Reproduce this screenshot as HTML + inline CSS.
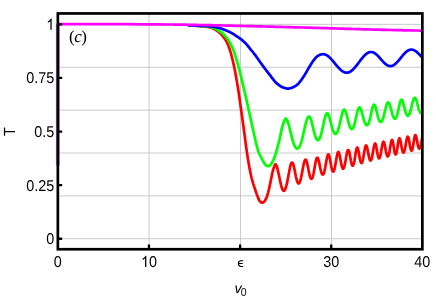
<!DOCTYPE html>
<html><head><meta charset="utf-8"><title>chart</title>
<style>html,body{margin:0;padding:0;background:#fff;}body{width:436px;height:300px;overflow:hidden;font-family:"Liberation Sans",sans-serif;}svg{display:block;will-change:transform;}text{text-rendering:geometricPrecision;}</style></head>
<body>
<svg width="436" height="300" viewBox="0 0 436 300">
<rect width="436" height="300" fill="#fff"/>
<path d="M149.10 13.45V249.25M240.50 13.45V249.25M331.50 13.45V249.25M57.85 238.73H422.35M57.85 195.86H422.35M57.85 152.99H422.35M57.85 110.11H422.35M57.85 67.24H422.35M57.85 24.37H422.35" stroke="#c4c4c4" stroke-width="0.9" fill="none"/>
<path d="M57.85 24V165.5" stroke="#b07cd0" stroke-width="3.9" fill="none"/>
<clipPath id="c"><rect x="57.85" y="13.45" width="364.50" height="235.80"/></clipPath>
<g clip-path="url(#c)" fill="none" stroke-width="2.70" stroke-linejoin="round">
<path d="M188.0 25.3L188.4 25.3L188.8 25.3L189.2 25.4L189.6 25.4L190.0 25.4L190.4 25.4L190.8 25.4L191.2 25.5L191.6 25.5L192.0 25.5L192.4 25.5L192.8 25.5L193.2 25.6L193.6 25.6L194.0 25.6L194.4 25.7L194.8 25.7L195.2 25.7L195.6 25.7L196.0 25.8L196.4 25.8L196.8 25.8L197.2 25.9L197.6 25.9L198.0 25.9L198.4 26.0L198.8 26.0L199.2 26.0L199.6 26.1L200.0 26.1L200.4 26.1L200.8 26.2L201.2 26.2L201.6 26.2L202.0 26.3L202.4 26.3L202.8 26.4L203.2 26.4L203.6 26.4L204.0 26.5L204.4 26.5L204.8 26.6L205.2 26.6L205.6 26.7L206.0 26.7L206.4 26.8L206.8 26.8L207.2 26.9L207.6 27.0L208.0 27.0L208.4 27.1L208.8 27.2L209.2 27.2L209.6 27.3L210.0 27.4L210.4 27.5L210.8 27.6L211.2 27.7L211.6 27.9L212.0 28.0L212.4 28.2L212.8 28.3L213.2 28.5L213.6 28.7L214.0 28.9L214.4 29.2L214.8 29.4L215.2 29.6L215.6 29.9L216.0 30.1L216.4 30.4L216.8 30.7L217.2 30.9L217.6 31.2L218.0 31.5L218.4 31.8L218.8 32.1L219.2 32.4L219.6 32.8L220.0 33.1L220.4 33.5L220.8 33.8L221.2 34.2L221.6 34.7L222.0 35.1L222.4 35.6L222.8 36.1L223.2 36.6L223.6 37.1L224.0 37.7L224.4 38.2L224.8 38.8L225.2 39.4L225.6 40.1L226.0 40.7L226.4 41.4L226.8 42.1L227.2 42.9L227.6 43.7L228.0 44.6L228.4 45.7L228.8 46.7L229.2 47.9L229.6 49.1L230.0 50.3L230.4 51.6L230.8 53.0L231.2 54.4L231.6 55.9L232.0 57.5L232.4 59.1L232.8 60.8L233.2 62.6L233.6 64.3L234.0 66.2L234.4 68.0L234.8 70.0L235.2 72.1L235.6 74.2L236.0 76.4L236.4 78.7L236.8 81.0L237.2 83.4L237.6 85.8L238.0 88.3L238.4 90.8L238.8 93.4L239.2 96.2L239.6 99.0L240.0 101.9L240.4 104.9L240.8 107.8L241.2 110.6L241.6 113.4L242.0 116.2L242.4 119.1L242.8 121.9L243.2 124.7L243.6 127.6L244.0 130.5L244.4 133.5L244.8 136.6L245.2 139.7L245.6 142.8L246.0 145.9L246.4 148.8L246.8 151.6L247.2 154.3L247.6 156.9L248.0 159.4L248.4 161.8L248.8 164.1L249.2 166.4L249.6 168.5L250.0 170.6L250.4 172.6L250.8 174.5L251.2 176.3L251.6 178.0L252.0 179.5L252.4 180.9L252.8 182.3L253.2 183.6L253.6 184.8L254.0 186.1L254.4 187.3L254.8 188.5L255.2 189.8L255.6 190.9L256.0 192.1L256.4 193.3L256.8 194.4L257.2 195.4L257.6 196.5L258.0 197.5L258.4 198.6L258.8 199.5L259.2 200.2L259.6 200.8L260.0 201.4L260.4 201.8L260.8 202.1L261.2 202.4L261.6 202.6L262.0 202.7L262.4 202.7L262.8 202.6L263.2 202.4L263.6 202.1L264.0 201.8L264.4 201.4L264.8 200.8L265.2 200.2L265.6 199.5L266.0 198.7L266.4 197.8L266.8 196.8L267.2 195.7L267.6 194.5L268.0 193.1L268.4 191.5L268.8 189.9L269.2 188.2L269.6 186.4L270.0 184.5L270.4 182.5L270.8 180.5L271.2 178.5L271.6 176.5L272.0 174.6L272.4 172.7L272.8 171.1L273.2 169.7L273.6 168.4L274.0 167.2L274.4 166.1L274.8 165.1L275.2 164.4L275.6 164.3L276.0 164.7L276.4 165.5L276.8 166.5L277.2 167.8L277.6 169.2L278.0 170.9L278.4 172.7L278.8 174.6L279.2 176.6L279.6 178.5L280.0 180.5L280.4 182.3L280.8 184.0L281.2 185.6L281.6 187.0L282.0 188.2L282.4 189.2L282.8 190.0L283.2 190.5L283.6 190.7L284.0 190.8L284.4 190.5L284.8 190.0L285.2 189.2L285.6 188.2L286.0 187.0L286.4 185.6L286.8 183.9L287.2 182.1L287.6 180.1L288.0 178.0L288.4 175.8L288.8 173.6L289.2 171.4L289.6 169.4L290.0 167.5L290.4 165.8L290.8 164.4L291.2 163.4L291.6 162.8L292.0 162.5L292.4 162.7L292.8 163.3L293.2 164.3L293.6 165.7L294.0 167.3L294.4 169.1L294.8 171.1L295.2 173.1L295.6 175.1L296.0 177.0L296.4 178.7L296.8 180.2L297.2 181.5L297.6 182.4L298.0 183.1L298.4 183.4L298.8 183.4L299.2 183.1L299.6 182.4L300.0 181.5L300.4 180.3L300.8 178.8L301.2 177.0L301.6 175.1L302.0 173.0L302.4 170.9L302.8 168.7L303.2 166.6L303.6 164.6L304.0 162.9L304.4 161.5L304.8 160.4L305.2 159.8L305.6 159.6L306.0 159.9L306.4 160.7L306.8 161.9L307.2 163.5L307.6 165.3L308.0 167.3L308.4 169.4L308.8 171.4L309.2 173.3L309.6 175.1L310.0 176.6L310.4 177.7L310.8 178.5L311.2 178.9L311.6 178.9L312.0 178.5L312.4 177.7L312.8 176.6L313.2 175.0L313.6 173.2L314.0 171.1L314.4 168.8L314.8 166.5L315.2 164.2L315.6 162.1L316.0 160.3L316.4 158.9L316.8 158.0L317.2 157.6L317.6 157.8L318.0 158.4L318.4 159.6L318.8 161.1L319.2 162.8L319.6 164.8L320.0 166.7L320.4 168.6L320.8 170.3L321.2 171.8L321.6 173.1L322.0 173.9L322.4 174.4L322.8 174.6L323.2 174.3L323.6 173.7L324.0 172.6L324.4 171.3L324.8 169.5L325.2 167.6L325.6 165.4L326.0 163.1L326.4 160.8L326.8 158.7L327.2 156.8L327.6 155.4L328.0 154.6L328.4 154.3L328.8 154.7L329.2 155.7L329.6 157.3L330.0 159.2L330.4 161.5L330.8 163.8L331.2 166.0L331.6 167.9L332.0 169.5L332.4 170.7L332.8 171.4L333.2 171.6L333.6 171.3L334.0 170.5L334.4 169.3L334.8 167.6L335.2 165.6L335.6 163.4L336.0 161.0L336.4 158.6L336.8 156.4L337.2 154.5L337.6 153.1L338.0 152.2L338.4 152.0L338.8 152.4L339.2 153.5L339.6 155.1L340.0 157.0L340.4 159.2L340.8 161.4L341.2 163.5L341.6 165.4L342.0 166.9L342.4 167.9L342.8 168.6L343.2 168.7L343.6 168.3L344.0 167.5L344.4 166.3L344.8 164.6L345.2 162.6L345.6 160.4L346.0 158.1L346.4 155.8L346.8 153.7L347.2 151.9L347.6 150.6L348.0 150.0L348.4 150.0L348.8 150.7L349.2 151.9L349.6 153.7L350.0 155.8L350.4 158.0L350.8 160.2L351.2 162.1L351.6 163.7L352.0 164.9L352.4 165.6L352.8 165.7L353.2 165.3L353.6 164.3L354.0 162.9L354.4 160.9L354.8 158.6L355.2 156.1L355.6 153.5L356.0 151.2L356.4 149.3L356.8 148.0L357.2 147.5L357.6 147.8L358.0 148.8L358.4 150.5L358.8 152.6L359.2 154.9L359.6 157.2L360.0 159.3L360.4 161.0L360.8 162.2L361.2 162.9L361.6 163.1L362.0 162.7L362.4 161.7L362.8 160.2L363.2 158.3L363.6 156.1L364.0 153.6L364.4 151.2L364.8 149.0L365.2 147.2L365.6 146.0L366.0 145.4L366.4 145.6L366.8 146.5L367.2 147.9L367.6 149.8L368.0 151.9L368.4 154.1L368.8 156.1L369.2 157.9L369.6 159.3L370.0 160.2L370.4 160.6L370.8 160.5L371.2 159.9L371.6 158.8L372.0 157.3L372.4 155.4L372.8 153.1L373.2 150.8L373.6 148.5L374.0 146.4L374.4 144.7L374.8 143.7L375.2 143.5L375.6 144.0L376.0 145.3L376.4 147.3L376.8 149.6L377.2 152.0L377.6 154.2L378.0 156.1L378.4 157.5L378.8 158.3L379.2 158.4L379.6 158.0L380.0 156.9L380.4 155.4L380.8 153.4L381.2 151.1L381.6 148.7L382.0 146.4L382.4 144.3L382.8 142.8L383.2 141.9L383.6 141.7L384.0 142.3L384.4 143.5L384.8 145.2L385.2 147.3L385.6 149.4L386.0 151.5L386.4 153.3L386.8 154.8L387.2 155.8L387.6 156.3L388.0 156.3L388.4 155.7L388.8 154.6L389.2 152.9L389.6 150.9L390.0 148.5L390.4 146.0L390.8 143.7L391.2 141.7L391.6 140.4L392.0 139.9L392.4 140.3L392.8 141.6L393.2 143.6L393.6 146.1L394.0 148.6L394.4 151.0L394.8 152.8L395.2 154.1L395.6 154.5L396.0 154.2L396.4 153.1L396.8 151.3L397.2 149.0L397.6 146.3L398.0 143.6L398.4 141.2L398.8 139.4L399.2 138.4L399.6 138.3L400.0 139.1L400.4 140.6L400.8 142.6L401.2 144.9L401.6 147.1L402.0 149.1L402.4 150.8L402.8 151.9L403.2 152.6L403.6 152.6L404.0 152.2L404.4 151.1L404.8 149.6L405.2 147.7L405.6 145.5L406.0 143.1L406.4 140.8L406.8 138.8L407.2 137.3L407.6 136.6L408.0 136.7L408.4 137.6L408.8 139.2L409.2 141.3L409.6 143.7L410.0 146.0L410.4 148.0L410.8 149.5L411.2 150.4L411.6 150.7L412.0 150.2L412.4 149.1L412.8 147.3L413.2 145.1L413.6 142.6L414.0 140.0L414.4 137.7L414.8 136.0L415.2 135.1L415.6 135.1L416.0 136.0L416.4 137.6L416.8 139.6L417.2 141.8L417.6 143.9L418.0 145.8L418.4 147.3L418.8 148.2L419.2 148.6L419.6 148.5L420.0 147.9L420.4 146.7L420.8 145.1L421.2 143.1L421.6 140.9L422.0 138.7L422.4 136.6" stroke="#ff0000"/>
<path d="M188.0 25.3L188.4 25.3L188.8 25.3L189.2 25.3L189.6 25.4L190.0 25.4L190.4 25.4L190.8 25.4L191.2 25.4L191.6 25.5L192.0 25.5L192.4 25.5L192.8 25.5L193.2 25.6L193.6 25.6L194.0 25.6L194.4 25.6L194.8 25.6L195.2 25.7L195.6 25.7L196.0 25.7L196.4 25.8L196.8 25.8L197.2 25.8L197.6 25.8L198.0 25.9L198.4 25.9L198.8 25.9L199.2 25.9L199.6 26.0L200.0 26.0L200.4 26.0L200.8 26.1L201.2 26.1L201.6 26.1L202.0 26.1L202.4 26.2L202.8 26.2L203.2 26.2L203.6 26.3L204.0 26.3L204.4 26.3L204.8 26.4L205.2 26.4L205.6 26.4L206.0 26.5L206.4 26.5L206.8 26.5L207.2 26.6L207.6 26.6L208.0 26.7L208.4 26.7L208.8 26.8L209.2 26.8L209.6 26.9L210.0 27.0L210.4 27.0L210.8 27.1L211.2 27.2L211.6 27.3L212.0 27.4L212.4 27.5L212.8 27.7L213.2 27.8L213.6 28.0L214.0 28.1L214.4 28.3L214.8 28.5L215.2 28.7L215.6 28.9L216.0 29.1L216.4 29.3L216.8 29.5L217.2 29.7L217.6 30.0L218.0 30.2L218.4 30.5L218.8 30.7L219.2 31.0L219.6 31.2L220.0 31.5L220.4 31.8L220.8 32.0L221.2 32.3L221.6 32.6L222.0 32.9L222.4 33.2L222.8 33.6L223.2 33.9L223.6 34.3L224.0 34.7L224.4 35.1L224.8 35.6L225.2 36.0L225.6 36.5L226.0 37.0L226.4 37.5L226.8 38.1L227.2 38.6L227.6 39.2L228.0 39.7L228.4 40.3L228.8 40.9L229.2 41.6L229.6 42.2L230.0 42.8L230.4 43.5L230.8 44.3L231.2 45.1L231.6 45.9L232.0 46.8L232.4 47.8L232.8 48.7L233.2 49.7L233.6 50.8L234.0 51.9L234.4 53.0L234.8 54.2L235.2 55.4L235.6 56.7L236.0 58.0L236.4 59.3L236.8 60.7L237.2 62.1L237.6 63.5L238.0 64.9L238.4 66.4L238.8 67.8L239.2 69.3L239.6 70.8L240.0 72.4L240.4 74.0L240.8 75.6L241.2 77.3L241.6 79.0L242.0 80.7L242.4 82.4L242.8 84.1L243.2 85.8L243.6 87.5L244.0 89.2L244.4 90.9L244.8 92.6L245.2 94.4L245.6 96.1L246.0 97.9L246.4 99.6L246.8 101.4L247.2 103.2L247.6 105.0L248.0 106.8L248.4 108.6L248.8 110.4L249.2 112.2L249.6 114.0L250.0 115.9L250.4 117.7L250.8 119.6L251.2 121.5L251.6 123.3L252.0 125.2L252.4 127.0L252.8 128.8L253.2 130.5L253.6 132.2L254.0 134.0L254.4 135.8L254.8 137.5L255.2 139.3L255.6 141.1L256.0 142.8L256.4 144.4L256.8 146.0L257.2 147.5L257.6 148.9L258.0 150.3L258.4 151.5L258.8 152.5L259.2 153.5L259.6 154.4L260.0 155.2L260.4 156.0L260.8 156.8L261.2 157.5L261.6 158.2L262.0 159.0L262.4 159.8L262.8 160.6L263.2 161.3L263.6 162.0L264.0 162.7L264.4 163.3L264.8 163.9L265.2 164.5L265.6 165.0L266.0 165.3L266.4 165.6L266.8 165.8L267.2 166.0L267.6 166.1L268.0 166.2L268.4 166.1L268.8 166.0L269.2 165.8L269.6 165.6L270.0 165.3L270.4 165.0L270.8 164.5L271.2 163.9L271.6 163.3L272.0 162.7L272.4 162.0L272.8 161.2L273.2 160.4L273.6 159.5L274.0 158.5L274.4 157.5L274.8 156.3L275.2 155.2L275.6 153.9L276.0 152.6L276.4 151.3L276.8 150.0L277.2 148.6L277.6 147.1L278.0 145.6L278.4 144.0L278.8 142.4L279.2 140.8L279.6 139.2L280.0 137.3L280.4 135.4L280.8 133.4L281.2 131.4L281.6 129.6L282.0 127.8L282.4 126.3L282.8 125.0L283.2 123.8L283.6 122.7L284.0 121.6L284.4 120.6L284.8 119.7L285.2 118.9L285.6 118.5L286.0 118.7L286.4 119.1L286.8 119.7L287.2 120.5L287.6 121.4L288.0 122.5L288.4 123.8L288.8 125.2L289.2 126.6L289.6 128.2L290.0 129.8L290.4 131.4L290.8 133.1L291.2 134.7L291.6 136.3L292.0 137.9L292.4 139.4L292.8 140.8L293.2 142.1L293.6 143.3L294.0 144.4L294.4 145.4L294.8 146.2L295.2 146.9L295.6 147.5L296.0 148.0L296.4 148.3L296.8 148.5L297.2 148.6L297.6 148.5L298.0 148.3L298.4 148.0L298.8 147.5L299.2 146.9L299.6 146.2L300.0 145.4L300.4 144.4L300.8 143.3L301.2 142.1L301.6 140.8L302.0 139.3L302.4 137.8L302.8 136.2L303.2 134.5L303.6 132.8L304.0 131.0L304.4 129.2L304.8 127.5L305.2 125.7L305.6 124.1L306.0 122.5L306.4 121.1L306.8 119.8L307.2 118.7L307.6 117.8L308.0 117.1L308.4 116.7L308.8 116.5L309.2 116.6L309.6 116.9L310.0 117.5L310.4 118.3L310.8 119.3L311.2 120.5L311.6 121.9L312.0 123.5L312.4 125.1L312.8 126.7L313.2 128.4L313.6 130.1L314.0 131.7L314.4 133.2L314.8 134.6L315.2 135.9L315.6 137.0L316.0 138.0L316.4 138.8L316.8 139.4L317.2 139.8L317.6 140.1L318.0 140.1L318.4 140.0L318.8 139.7L319.2 139.2L319.6 138.5L320.0 137.6L320.4 136.6L320.8 135.4L321.2 134.0L321.6 132.5L322.0 130.9L322.4 129.1L322.8 127.3L323.2 125.4L323.6 123.6L324.0 121.7L324.4 120.0L324.8 118.3L325.2 116.9L325.6 115.6L326.0 114.6L326.4 113.8L326.8 113.4L327.2 113.2L327.6 113.3L328.0 113.8L328.4 114.5L328.8 115.4L329.2 116.6L329.6 117.9L330.0 119.4L330.4 121.0L330.8 122.6L331.2 124.2L331.6 125.8L332.0 127.3L332.4 128.7L332.8 129.9L333.2 131.0L333.6 132.0L334.0 132.7L334.4 133.3L334.8 133.7L335.2 133.9L335.6 134.0L336.0 133.8L336.4 133.5L336.8 132.9L337.2 132.2L337.6 131.3L338.0 130.3L338.4 129.0L338.8 127.6L339.2 126.1L339.6 124.4L340.0 122.7L340.4 120.9L340.8 119.1L341.2 117.3L341.6 115.7L342.0 114.1L342.4 112.7L342.8 111.5L343.2 110.6L343.6 110.0L344.0 109.7L344.4 109.7L344.8 110.0L345.2 110.7L345.6 111.6L346.0 112.7L346.4 114.0L346.8 115.5L347.2 117.1L347.6 118.8L348.0 120.4L348.4 122.0L348.8 123.5L349.2 124.8L349.6 126.0L350.0 127.0L350.4 127.9L350.8 128.5L351.2 128.9L351.6 129.1L352.0 129.1L352.4 128.9L352.8 128.4L353.2 127.7L353.6 126.9L354.0 125.8L354.4 124.5L354.8 123.0L355.2 121.3L355.6 119.6L356.0 117.8L356.4 115.9L356.8 114.1L357.2 112.5L357.6 110.9L358.0 109.6L358.4 108.6L358.8 107.9L359.2 107.5L359.6 107.4L360.0 107.7L360.4 108.3L360.8 109.1L361.2 110.2L361.6 111.5L362.0 112.9L362.4 114.4L362.8 115.9L363.2 117.4L363.6 118.9L364.0 120.2L364.4 121.5L364.8 122.5L365.2 123.5L365.6 124.2L366.0 124.7L366.4 125.1L366.8 125.2L367.2 125.2L367.6 124.9L368.0 124.4L368.4 123.7L368.8 122.7L369.2 121.6L369.6 120.2L370.0 118.7L370.4 117.0L370.8 115.1L371.2 113.3L371.6 111.4L372.0 109.6L372.4 108.0L372.8 106.7L373.2 105.6L373.6 104.9L374.0 104.6L374.4 104.7L374.8 105.2L375.2 106.1L375.6 107.3L376.0 108.7L376.4 110.3L376.8 112.0L377.2 113.7L377.6 115.3L378.0 116.9L378.4 118.2L378.8 119.4L379.2 120.4L379.6 121.2L380.0 121.7L380.4 122.0L380.8 122.0L381.2 121.9L381.6 121.5L382.0 120.9L382.4 120.1L382.8 119.1L383.2 117.9L383.6 116.5L384.0 115.0L384.4 113.4L384.8 111.7L385.2 110.0L385.6 108.4L386.0 106.8L386.4 105.4L386.8 104.2L387.2 103.3L387.6 102.7L388.0 102.4L388.4 102.4L388.8 102.8L389.2 103.5L389.6 104.4L390.0 105.6L390.4 107.0L390.8 108.5L391.2 110.0L391.6 111.5L392.0 113.0L392.4 114.4L392.8 115.6L393.2 116.7L393.6 117.5L394.0 118.1L394.4 118.6L394.8 118.7L395.2 118.7L395.6 118.4L396.0 117.8L396.4 117.0L396.8 115.9L397.2 114.6L397.6 113.1L398.0 111.4L398.4 109.6L398.8 107.7L399.2 105.8L399.6 104.1L400.0 102.5L400.4 101.3L400.8 100.4L401.2 99.8L401.6 99.7L402.0 100.0L402.4 100.7L402.8 101.8L403.2 103.1L403.6 104.5L404.0 106.1L404.4 107.7L404.8 109.3L405.2 110.8L405.6 112.2L406.0 113.3L406.4 114.3L406.8 115.0L407.2 115.5L407.6 115.8L408.0 115.8L408.4 115.6L408.8 115.2L409.2 114.5L409.6 113.6L410.0 112.5L410.4 111.3L410.8 109.8L411.2 108.2L411.6 106.5L412.0 104.8L412.4 103.2L412.8 101.6L413.2 100.3L413.6 99.2L414.0 98.4L414.4 97.9L414.8 97.8L415.2 98.0L415.6 98.6L416.0 99.5L416.4 100.6L416.8 102.0L417.2 103.4L417.6 104.9L418.0 106.4L418.4 107.8L418.8 109.1L419.2 110.3L419.6 111.3L420.0 112.1L420.4 112.7L420.8 113.1L421.2 113.3L421.6 113.4L422.0 113.2L422.4 112.9" stroke="#00ff00"/>
<path d="M188.0 25.3L188.4 25.3L188.8 25.3L189.2 25.3L189.6 25.4L190.0 25.4L190.4 25.4L190.8 25.4L191.2 25.4L191.6 25.4L192.0 25.4L192.4 25.5L192.8 25.5L193.2 25.5L193.6 25.5L194.0 25.5L194.4 25.5L194.8 25.5L195.2 25.6L195.6 25.6L196.0 25.6L196.4 25.6L196.8 25.6L197.2 25.7L197.6 25.7L198.0 25.7L198.4 25.7L198.8 25.7L199.2 25.7L199.6 25.8L200.0 25.8L200.4 25.8L200.8 25.8L201.2 25.8L201.6 25.8L202.0 25.9L202.4 25.9L202.8 25.9L203.2 25.9L203.6 25.9L204.0 26.0L204.4 26.0L204.8 26.0L205.2 26.0L205.6 26.0L206.0 26.1L206.4 26.1L206.8 26.1L207.2 26.1L207.6 26.2L208.0 26.2L208.4 26.2L208.8 26.3L209.2 26.3L209.6 26.3L210.0 26.4L210.4 26.4L210.8 26.4L211.2 26.5L211.6 26.5L212.0 26.6L212.4 26.6L212.8 26.7L213.2 26.8L213.6 26.8L214.0 26.9L214.4 27.0L214.8 27.0L215.2 27.1L215.6 27.2L216.0 27.3L216.4 27.4L216.8 27.4L217.2 27.5L217.6 27.6L218.0 27.7L218.4 27.8L218.8 27.9L219.2 28.0L219.6 28.1L220.0 28.2L220.4 28.3L220.8 28.5L221.2 28.6L221.6 28.7L222.0 28.9L222.4 29.0L222.8 29.2L223.2 29.3L223.6 29.5L224.0 29.6L224.4 29.8L224.8 29.9L225.2 30.1L225.6 30.2L226.0 30.4L226.4 30.6L226.8 30.7L227.2 30.9L227.6 31.1L228.0 31.2L228.4 31.4L228.8 31.6L229.2 31.8L229.6 32.0L230.0 32.2L230.4 32.4L230.8 32.6L231.2 32.8L231.6 33.0L232.0 33.2L232.4 33.4L232.8 33.7L233.2 33.9L233.6 34.2L234.0 34.4L234.4 34.7L234.8 35.0L235.2 35.3L235.6 35.5L236.0 35.8L236.4 36.1L236.8 36.3L237.2 36.6L237.6 36.9L238.0 37.1L238.4 37.4L238.8 37.7L239.2 37.9L239.6 38.2L240.0 38.5L240.4 38.8L240.8 39.1L241.2 39.4L241.6 39.7L242.0 40.0L242.4 40.4L242.8 40.7L243.2 41.1L243.6 41.4L244.0 41.8L244.4 42.1L244.8 42.5L245.2 42.9L245.6 43.3L246.0 43.7L246.4 44.2L246.8 44.6L247.2 45.1L247.6 45.6L248.0 46.1L248.4 46.6L248.8 47.1L249.2 47.6L249.6 48.1L250.0 48.6L250.4 49.1L250.8 49.6L251.2 50.1L251.6 50.6L252.0 51.0L252.4 51.5L252.8 52.0L253.2 52.5L253.6 53.0L254.0 53.6L254.4 54.1L254.8 54.6L255.2 55.1L255.6 55.7L256.0 56.2L256.4 56.8L256.8 57.3L257.2 57.9L257.6 58.4L258.0 59.0L258.4 59.6L258.8 60.1L259.2 60.7L259.6 61.3L260.0 61.8L260.4 62.4L260.8 63.0L261.2 63.5L261.6 64.1L262.0 64.7L262.4 65.2L262.8 65.8L263.2 66.3L263.6 66.9L264.0 67.4L264.4 67.9L264.8 68.5L265.2 69.0L265.6 69.5L266.0 70.1L266.4 70.6L266.8 71.1L267.2 71.6L267.6 72.2L268.0 72.7L268.4 73.2L268.8 73.7L269.2 74.2L269.6 74.7L270.0 75.2L270.4 75.7L270.8 76.2L271.2 76.8L271.6 77.3L272.0 77.8L272.4 78.3L272.8 78.9L273.2 79.4L273.6 79.9L274.0 80.4L274.4 80.9L274.8 81.4L275.2 81.8L275.6 82.3L276.0 82.7L276.4 83.1L276.8 83.4L277.2 83.7L277.6 84.1L278.0 84.4L278.4 84.7L278.8 85.0L279.2 85.3L279.6 85.5L280.0 85.8L280.4 86.1L280.8 86.3L281.2 86.6L281.6 86.8L282.0 87.0L282.4 87.2L282.8 87.4L283.2 87.5L283.6 87.7L284.0 87.8L284.4 87.9L284.8 88.0L285.2 88.1L285.6 88.3L286.0 88.4L286.4 88.4L286.8 88.5L287.2 88.6L287.6 88.6L288.0 88.6L288.4 88.6L288.8 88.5L289.2 88.5L289.6 88.4L290.0 88.3L290.4 88.2L290.8 88.1L291.2 88.0L291.6 87.8L292.0 87.7L292.4 87.6L292.8 87.4L293.2 87.2L293.6 87.0L294.0 86.8L294.4 86.6L294.8 86.4L295.2 86.1L295.6 85.8L296.0 85.6L296.4 85.3L296.8 85.0L297.2 84.6L297.6 84.3L298.0 84.0L298.4 83.6L298.8 83.1L299.2 82.7L299.6 82.2L300.0 81.7L300.4 81.2L300.8 80.6L301.2 80.1L301.6 79.5L302.0 78.9L302.4 78.4L302.8 77.8L303.2 77.2L303.6 76.6L304.0 76.0L304.4 75.4L304.8 74.7L305.2 74.0L305.6 73.3L306.0 72.7L306.4 72.0L306.8 71.3L307.2 70.6L307.6 69.9L308.0 69.2L308.4 68.5L308.8 67.8L309.2 67.2L309.6 66.6L310.0 65.9L310.4 65.2L310.8 64.6L311.2 63.9L311.6 63.3L312.0 62.6L312.4 62.0L312.8 61.4L313.2 60.8L313.6 60.3L314.0 59.8L314.4 59.3L314.8 58.8L315.2 58.3L315.6 57.9L316.0 57.4L316.4 57.0L316.8 56.6L317.2 56.3L317.6 56.0L318.0 55.8L318.4 55.6L318.8 55.4L319.2 55.2L319.6 55.0L320.0 54.8L320.4 54.7L320.8 54.6L321.2 54.4L321.6 54.3L322.0 54.3L322.4 54.2L322.8 54.2L323.2 54.2L323.6 54.2L324.0 54.3L324.4 54.3L324.8 54.4L325.2 54.6L325.6 54.7L326.0 54.9L326.4 55.1L326.8 55.3L327.2 55.5L327.6 55.8L328.0 56.1L328.4 56.4L328.8 56.7L329.2 57.1L329.6 57.5L330.0 57.8L330.4 58.2L330.8 58.6L331.2 59.1L331.6 59.5L332.0 60.0L332.4 60.4L332.8 60.9L333.2 61.4L333.6 61.8L334.0 62.3L334.4 62.8L334.8 63.3L335.2 63.8L335.6 64.3L336.0 64.8L336.4 65.3L336.8 65.7L337.2 66.2L337.6 66.7L338.0 67.1L338.4 67.6L338.8 68.0L339.2 68.4L339.6 68.8L340.0 69.2L340.4 69.6L340.8 70.0L341.2 70.3L341.6 70.6L342.0 70.9L342.4 71.2L342.8 71.5L343.2 71.7L343.6 71.9L344.0 72.1L344.4 72.3L344.8 72.4L345.2 72.5L345.6 72.6L346.0 72.7L346.4 72.7L346.8 72.7L347.2 72.7L347.6 72.6L348.0 72.6L348.4 72.5L348.8 72.3L349.2 72.2L349.6 72.0L350.0 71.8L350.4 71.6L350.8 71.3L351.2 71.0L351.6 70.7L352.0 70.4L352.4 70.1L352.8 69.7L353.2 69.3L353.6 68.9L354.0 68.5L354.4 68.0L354.8 67.6L355.2 67.1L355.6 66.6L356.0 66.2L356.4 65.7L356.8 65.2L357.2 64.6L357.6 64.1L358.0 63.6L358.4 63.1L358.8 62.5L359.2 62.0L359.6 61.5L360.0 60.9L360.4 60.4L360.8 59.9L361.2 59.4L361.6 58.8L362.0 58.3L362.4 57.9L362.8 57.4L363.2 56.9L363.6 56.5L364.0 56.0L364.4 55.6L364.8 55.2L365.2 54.8L365.6 54.5L366.0 54.1L366.4 53.8L366.8 53.5L367.2 53.3L367.6 53.0L368.0 52.8L368.4 52.6L368.8 52.4L369.2 52.3L369.6 52.2L370.0 52.1L370.4 52.0L370.8 52.0L371.2 52.0L371.6 52.0L372.0 52.1L372.4 52.2L372.8 52.3L373.2 52.4L373.6 52.6L374.0 52.8L374.4 53.0L374.8 53.3L375.2 53.5L375.6 53.8L376.0 54.1L376.4 54.5L376.8 54.8L377.2 55.2L377.6 55.6L378.0 56.0L378.4 56.4L378.8 56.9L379.2 57.3L379.6 57.7L380.0 58.2L380.4 58.7L380.8 59.1L381.2 59.6L381.6 60.0L382.0 60.5L382.4 60.9L382.8 61.4L383.2 61.8L383.6 62.2L384.0 62.6L384.4 63.0L384.8 63.4L385.2 63.7L385.6 64.1L386.0 64.4L386.4 64.7L386.8 64.9L387.2 65.2L387.6 65.4L388.0 65.6L388.4 65.7L388.8 65.9L389.2 66.0L389.6 66.0L390.0 66.1L390.4 66.1L390.8 66.1L391.2 66.0L391.6 66.0L392.0 65.9L392.4 65.7L392.8 65.6L393.2 65.4L393.6 65.2L394.0 64.9L394.4 64.6L394.8 64.3L395.2 64.0L395.6 63.7L396.0 63.3L396.4 62.9L396.8 62.5L397.2 62.1L397.6 61.7L398.0 61.2L398.4 60.8L398.8 60.3L399.2 59.8L399.6 59.3L400.0 58.8L400.4 58.3L400.8 57.8L401.2 57.3L401.6 56.8L402.0 56.3L402.4 55.9L402.8 55.4L403.2 54.9L403.6 54.5L404.0 54.0L404.4 53.6L404.8 53.2L405.2 52.8L405.6 52.4L406.0 52.0L406.4 51.7L406.8 51.4L407.2 51.1L407.6 50.8L408.0 50.6L408.4 50.3L408.8 50.2L409.2 50.0L409.6 49.9L410.0 49.8L410.4 49.7L410.8 49.6L411.2 49.6L411.6 49.6L412.0 49.6L412.4 49.7L412.8 49.8L413.2 49.9L413.6 50.1L414.0 50.2L414.4 50.4L414.8 50.6L415.2 50.9L415.6 51.1L416.0 51.4L416.4 51.7L416.8 52.1L417.2 52.4L417.6 52.8L418.0 53.1L418.4 53.5L418.8 53.9L419.2 54.3L419.6 54.7L420.0 55.2L420.4 55.6L420.8 56.0L421.2 56.4L421.6 56.9L422.0 57.3L422.4 57.7" stroke="#0000ff"/>
<path d="M57.9 24.1L71.8 24.2L85.8 24.2L99.8 24.2L113.8 24.2L127.8 24.2L141.8 24.3L155.8 24.3L169.8 24.5L170.0 24.5L170.4 24.5L170.8 24.5L171.2 24.5L171.6 24.5L172.0 24.5L172.4 24.5L172.8 24.5L173.2 24.5L173.6 24.5L174.0 24.5L174.4 24.6L174.8 24.6L175.2 24.6L175.6 24.6L176.0 24.6L176.4 24.6L176.8 24.6L177.2 24.6L177.6 24.6L178.0 24.6L178.4 24.6L178.8 24.6L179.2 24.6L179.6 24.6L180.0 24.6L180.4 24.7L180.8 24.7L181.2 24.7L181.6 24.7L182.0 24.7L182.4 24.7L182.8 24.7L183.2 24.7L183.6 24.7L184.0 24.7L184.4 24.7L184.8 24.7L185.2 24.7L185.6 24.7L186.0 24.7L186.4 24.8L186.8 24.8L187.2 24.8L187.6 24.8L188.0 24.8L188.4 24.8L188.8 24.8L189.2 24.8L189.6 24.8L190.0 24.8L190.4 24.8L190.8 24.8L191.2 24.8L191.6 24.8L192.0 24.9L192.4 24.9L192.8 24.9L193.2 24.9L193.6 24.9L194.0 24.9L194.4 24.9L194.8 24.9L195.2 24.9L195.6 24.9L196.0 24.9L196.4 24.9L196.8 24.9L197.2 25.0L197.6 25.0L198.0 25.0L198.4 25.0L198.8 25.0L199.2 25.0L199.6 25.0L200.0 25.0L200.4 25.0L200.8 25.0L201.2 25.0L201.6 25.0L202.0 25.0L202.4 25.0L202.8 25.1L203.2 25.1L203.6 25.1L204.0 25.1L204.4 25.1L204.8 25.1L205.2 25.1L205.6 25.1L206.0 25.1L206.4 25.1L206.8 25.1L207.2 25.1L207.6 25.1L208.0 25.2L208.4 25.2L208.8 25.2L209.2 25.2L209.6 25.2L210.0 25.2L210.4 25.2L210.8 25.2L211.2 25.2L211.6 25.2L212.0 25.2L212.4 25.2L212.8 25.3L213.2 25.3L213.6 25.3L214.0 25.3L214.4 25.3L214.8 25.3L215.2 25.3L215.6 25.3L216.0 25.3L216.4 25.3L216.8 25.3L217.2 25.4L217.6 25.4L218.0 25.4L218.4 25.4L218.8 25.4L219.2 25.4L219.6 25.4L220.0 25.4L220.4 25.4L220.8 25.4L221.2 25.4L221.6 25.5L222.0 25.5L222.4 25.5L222.8 25.5L223.2 25.5L223.6 25.5L224.0 25.5L224.4 25.5L224.8 25.5L225.2 25.5L225.6 25.6L226.0 25.6L226.4 25.6L226.8 25.6L227.2 25.6L227.6 25.6L228.0 25.6L228.4 25.6L228.8 25.6L229.2 25.6L229.6 25.6L230.0 25.7L230.4 25.7L230.8 25.7L231.2 25.7L231.6 25.7L232.0 25.7L232.4 25.7L232.8 25.7L233.2 25.7L233.6 25.7L234.0 25.8L234.4 25.8L234.8 25.8L235.2 25.8L235.6 25.8L236.0 25.8L236.4 25.8L236.8 25.8L237.2 25.8L237.6 25.8L238.0 25.9L238.4 25.9L238.8 25.9L239.2 25.9L239.6 25.9L240.0 25.9L240.4 25.9L240.8 25.9L241.2 25.9L241.6 25.9L242.0 25.9L242.4 26.0L242.8 26.0L243.2 26.0L243.6 26.0L244.0 26.0L244.4 26.0L244.8 26.0L245.2 26.0L245.6 26.0L246.0 26.0L246.4 26.1L246.8 26.1L247.2 26.1L247.6 26.1L248.0 26.1L248.4 26.1L248.8 26.1L249.2 26.1L249.6 26.1L250.0 26.1L250.4 26.2L250.8 26.2L251.2 26.2L251.6 26.2L252.0 26.2L252.4 26.2L252.8 26.2L253.2 26.2L253.6 26.2L254.0 26.2L254.4 26.2L254.8 26.3L255.2 26.3L255.6 26.3L256.0 26.3L256.4 26.3L256.8 26.3L257.2 26.3L257.6 26.3L258.0 26.3L258.4 26.3L258.8 26.4L259.2 26.4L259.6 26.4L260.0 26.4L260.4 26.4L260.8 26.4L261.2 26.4L261.6 26.4L262.0 26.4L262.4 26.4L262.8 26.5L263.2 26.5L263.6 26.5L264.0 26.5L264.4 26.5L264.8 26.5L265.2 26.5L265.6 26.5L266.0 26.5L266.4 26.5L266.8 26.6L267.2 26.6L267.6 26.6L268.0 26.6L268.4 26.6L268.8 26.6L269.2 26.6L269.6 26.6L270.0 26.6L270.4 26.7L270.8 26.7L271.2 26.7L271.6 26.7L272.0 26.7L272.4 26.7L272.8 26.7L273.2 26.7L273.6 26.7L274.0 26.7L274.4 26.8L274.8 26.8L275.2 26.8L275.6 26.8L276.0 26.8L276.4 26.8L276.8 26.8L277.2 26.8L277.6 26.8L278.0 26.8L278.4 26.9L278.8 26.9L279.2 26.9L279.6 26.9L280.0 26.9L280.4 26.9L280.8 26.9L281.2 26.9L281.6 26.9L282.0 27.0L282.4 27.0L282.8 27.0L283.2 27.0L283.6 27.0L284.0 27.0L284.4 27.0L284.8 27.0L285.2 27.0L285.6 27.0L286.0 27.1L286.4 27.1L286.8 27.1L287.2 27.1L287.6 27.1L288.0 27.1L288.4 27.1L288.8 27.1L289.2 27.1L289.6 27.2L290.0 27.2L290.4 27.2L290.8 27.2L291.2 27.2L291.6 27.2L292.0 27.2L292.4 27.2L292.8 27.2L293.2 27.3L293.6 27.3L294.0 27.3L294.4 27.3L294.8 27.3L295.2 27.3L295.6 27.3L296.0 27.3L296.4 27.3L296.8 27.3L297.2 27.4L297.6 27.4L298.0 27.4L298.4 27.4L298.8 27.4L299.2 27.4L299.6 27.4L300.0 27.4L300.4 27.4L300.8 27.5L301.2 27.5L301.6 27.5L302.0 27.5L302.4 27.5L302.8 27.5L303.2 27.5L303.6 27.5L304.0 27.5L304.4 27.6L304.8 27.6L305.2 27.6L305.6 27.6L306.0 27.6L306.4 27.6L306.8 27.6L307.2 27.6L307.6 27.6L308.0 27.7L308.4 27.7L308.8 27.7L309.2 27.7L309.6 27.7L310.0 27.7L310.4 27.7L310.8 27.7L311.2 27.7L311.6 27.8L312.0 27.8L312.4 27.8L312.8 27.8L313.2 27.8L313.6 27.8L314.0 27.8L314.4 27.8L314.8 27.9L315.2 27.9L315.6 27.9L316.0 27.9L316.4 27.9L316.8 27.9L317.2 27.9L317.6 27.9L318.0 27.9L318.4 28.0L318.8 28.0L319.2 28.0L319.6 28.0L320.0 28.0L320.4 28.0L320.8 28.0L321.2 28.0L321.6 28.0L322.0 28.1L322.4 28.1L322.8 28.1L323.2 28.1L323.6 28.1L324.0 28.1L324.4 28.1L324.8 28.1L325.2 28.2L325.6 28.2L326.0 28.2L326.4 28.2L326.8 28.2L327.2 28.2L327.6 28.2L328.0 28.2L328.4 28.2L328.8 28.3L329.2 28.3L329.6 28.3L330.0 28.3L330.4 28.3L330.8 28.3L331.2 28.3L331.6 28.3L332.0 28.4L332.4 28.4L332.8 28.4L333.2 28.4L333.6 28.4L334.0 28.4L334.4 28.4L334.8 28.4L335.2 28.5L335.6 28.5L336.0 28.5L336.4 28.5L336.8 28.5L337.2 28.5L337.6 28.5L338.0 28.5L338.4 28.6L338.8 28.6L339.2 28.6L339.6 28.6L340.0 28.6L340.4 28.6L340.8 28.6L341.2 28.6L341.6 28.7L342.0 28.7L342.4 28.7L342.8 28.7L343.2 28.7L343.6 28.7L344.0 28.7L344.4 28.7L344.8 28.8L345.2 28.8L345.6 28.8L346.0 28.8L346.4 28.8L346.8 28.8L347.2 28.8L347.6 28.8L348.0 28.9L348.4 28.9L348.8 28.9L349.2 28.9L349.6 28.9L350.0 28.9L350.4 28.9L350.8 28.9L351.2 28.9L351.6 29.0L352.0 29.0L352.4 29.0L352.8 29.0L353.2 29.0L353.6 29.0L354.0 29.0L354.4 29.0L354.8 29.1L355.2 29.1L355.6 29.1L356.0 29.1L356.4 29.1L356.8 29.1L357.2 29.1L357.6 29.1L358.0 29.1L358.4 29.2L358.8 29.2L359.2 29.2L359.6 29.2L360.0 29.2L360.4 29.2L360.8 29.2L361.2 29.2L361.6 29.2L362.0 29.3L362.4 29.3L362.8 29.3L363.2 29.3L363.6 29.3L364.0 29.3L364.4 29.3L364.8 29.3L365.2 29.3L365.6 29.4L366.0 29.4L366.4 29.4L366.8 29.4L367.2 29.4L367.6 29.4L368.0 29.4L368.4 29.4L368.8 29.4L369.2 29.4L369.6 29.5L370.0 29.5L370.4 29.5L370.8 29.5L371.2 29.5L371.6 29.5L372.0 29.5L372.4 29.5L372.8 29.5L373.2 29.6L373.6 29.6L374.0 29.6L374.4 29.6L374.8 29.6L375.2 29.6L375.6 29.6L376.0 29.6L376.4 29.6L376.8 29.7L377.2 29.7L377.6 29.7L378.0 29.7L378.4 29.7L378.8 29.7L379.2 29.7L379.6 29.7L380.0 29.7L380.4 29.7L380.8 29.8L381.2 29.8L381.6 29.8L382.0 29.8L382.4 29.8L382.8 29.8L383.2 29.8L383.6 29.8L384.0 29.8L384.4 29.8L384.8 29.9L385.2 29.9L385.6 29.9L386.0 29.9L386.4 29.9L386.8 29.9L387.2 29.9L387.6 29.9L388.0 29.9L388.4 29.9L388.8 30.0L389.2 30.0L389.6 30.0L390.0 30.0L390.4 30.0L390.8 30.0L391.2 30.0L391.6 30.0L392.0 30.0L392.4 30.0L392.8 30.0L393.2 30.1L393.6 30.1L394.0 30.1L394.4 30.1L394.8 30.1L395.2 30.1L395.6 30.1L396.0 30.1L396.4 30.1L396.8 30.1L397.2 30.1L397.6 30.1L398.0 30.2L398.4 30.2L398.8 30.2L399.2 30.2L399.6 30.2L400.0 30.2L400.4 30.2L400.8 30.2L401.2 30.2L401.6 30.2L402.0 30.2L402.4 30.2L402.8 30.3L403.2 30.3L403.6 30.3L404.0 30.3L404.4 30.3L404.8 30.3L405.2 30.3L405.6 30.3L406.0 30.3L406.4 30.3L406.8 30.3L407.2 30.3L407.6 30.3L408.0 30.4L408.4 30.4L408.8 30.4L409.2 30.4L409.6 30.4L410.0 30.4L410.4 30.4L410.8 30.4L411.2 30.4L411.6 30.4L412.0 30.4L412.4 30.4L412.8 30.4L413.2 30.5L413.6 30.5L414.0 30.5L414.4 30.5L414.8 30.5L415.2 30.5L415.6 30.5L416.0 30.5L416.4 30.5L416.8 30.5L417.2 30.5L417.6 30.5L418.0 30.5L418.4 30.5L418.8 30.5L419.2 30.6L419.6 30.6L420.0 30.6L420.4 30.6L420.8 30.6L421.2 30.6L421.6 30.6L422.0 30.6L422.4 30.6" stroke="#ff00ff"/>
</g>
<path d="M148.97 249.25V244.55M240.10 249.25V244.55M331.23 249.25V244.55M57.85 238.73H62.15M57.85 185.14H62.15M57.85 131.55H62.15M57.85 77.96H62.15M57.85 24.37H62.15" stroke="#000" stroke-width="2.3" fill="none"/>
<rect x="57.85" y="13.45" width="364.50" height="235.80" fill="none" stroke="#000" stroke-width="2.7"/>
<g font-family="'Liberation Sans', sans-serif" font-size="14.4px" fill="#000">
<text transform="translate(57.85 267.10) scale(1 1.090)" text-anchor="middle">0</text>
<text transform="translate(331.23 267.10) scale(1 1.090)" text-anchor="middle">30</text>
<text transform="translate(422.35 267.10) scale(1 1.090)" text-anchor="middle">40</text>
<path aria-label="1" transform="translate(140.97 267.10) scale(0.00703 -0.00766)" d="M763 0H583V1147Q518 1085 412.5 1023T223 930V1104Q374 1175 487 1276T647 1472H763Z" fill="#000"/>
<text transform="translate(148.97 267.10) scale(1 1.090)" text-anchor="start">0</text>
<text transform="translate(54.30 244.18) scale(1 1.090)" text-anchor="end">0</text>
<text transform="translate(54.30 190.59) scale(1 1.090)" text-anchor="end">0.25</text>
<text transform="translate(54.30 137.00) scale(1 1.090)" text-anchor="end">0.5</text>
<text transform="translate(54.30 83.41) scale(1 1.090)" text-anchor="end">0.75</text>
<path aria-label="1" transform="translate(46.29 29.82) scale(0.00703 -0.00766)" d="M763 0H583V1147Q518 1085 412.5 1023T223 930V1104Q374 1175 487 1276T647 1472H763Z" fill="#000"/>
<path d="M243.3 260.75L241.3 260.75C239.5 260.75 238.35 261.9 238.35 263.6C238.35 265.3 239.5 266.45 241.2 266.45L243.1 266.45M238.5 263.5H242.7" aria-label="&#1013;" fill="none" stroke="#000" stroke-width="1.15"/>
<text transform="translate(14.8 131.5) rotate(-90) scale(1 1.12)" text-anchor="middle">T</text>
<text x="234.6" y="293" font-style="italic">v</text>
<text transform="translate(240.7 296.1) scale(1 1.09)" font-size="10.5px">0</text>
</g>
<g font-family="'Liberation Serif', serif" font-size="17px" fill="#000"><text x="69.0" y="41.7">(</text><text x="74.15" y="41.7" font-style="italic">c</text><text x="81.15" y="41.7">)</text></g>
</svg>
</body></html>
